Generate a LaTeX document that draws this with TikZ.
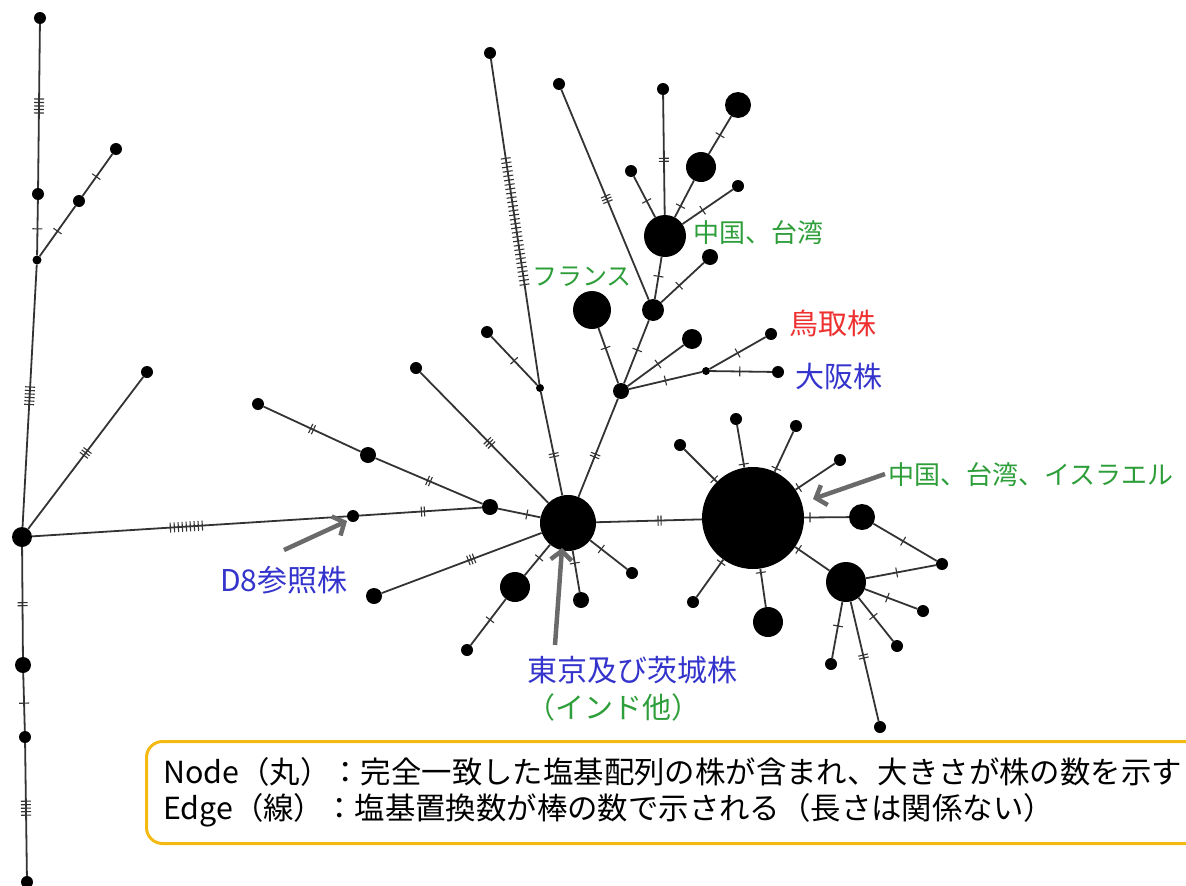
\documentclass[tikz,border=0pt]{standalone}
\usepackage{fontspec}
\setmainfont{Noto Sans CJK JP}
\usetikzlibrary{decorations.markings,arrows.meta}
\definecolor{edgec}{HTML}{333333}
\definecolor{lgreen}{HTML}{2E9E3A}
\definecolor{lblue}{HTML}{3434CC}
\definecolor{lred}{HTML}{EE3030}
\definecolor{boxc}{HTML}{F5BA12}
\definecolor{arrc}{HTML}{6A6A6A}
\begin{document}
\begin{tikzpicture}[x=1pt,y=-1pt,
  dot/.style={circle,fill=black,inner sep=0pt,minimum size={2*#1pt}},
  edge/.style={draw=edgec,line width=1.8pt},
  tk/.style n args={3}{postaction={decorate,decoration={markings,mark=at position #1 with {\pgfmathsetmacro\tkoff{(#2+1)/2}\foreach \ti in {1,...,#2}{\draw[edgec,line width=1.1pt] ({(\ti-\tkoff)*#3},-5) -- ({(\ti-\tkoff)*#3},5);}}}}},
  lab/.style={inner sep=0pt,anchor=west},
  garrow/.style={draw=arrc,line width=4.5pt,-{Straight Barb[length=9pt,width=21pt]}}]
\useasboundingbox (0,0) rectangle (1186,886);

% left column
\node[dot=6] (L1) at (40,18) {};
\node[dot=6] (L2) at (38,194) {};
\node[dot=4.5] (L3) at (37,260) {};
\node[dot=6] (L4) at (79,201) {};
\node[dot=6] (L5) at (116,149) {};
\node[dot=10] (L0) at (22,537) {};
\node[dot=6] (L6) at (147,372) {};
\node[dot=8] (L7) at (23,665) {};
\node[dot=6] (L8) at (25,737) {};
\node[dot=6] (L9) at (27,882) {};
% middle left
\node[dot=6] (D8) at (353,516) {};
\node[dot=8] (N1) at (490,507) {};
\node[dot=8] (N2) at (368,455) {};
\node[dot=6] (N3) at (258,404) {};
\node[dot=28] (C) at (568,523) {};
\node[dot=6] (N4) at (416,368) {};
\node[dot=6] (N5) at (487,332) {};
\node[dot=4] (N6) at (540,388) {};
\node[dot=6] (N7) at (490,53) {};
% upper branch
\node[dot=8] (B) at (621,391) {};
\node[dot=19] (F) at (592,310) {};
\node[dot=11] (M) at (653,310) {};
\node[dot=21] (T) at (665,236) {};
\node[dot=6] (T1) at (631,171) {};
\node[dot=6] (T2) at (663,89) {};
\node[dot=15] (T3) at (701,167) {};
\node[dot=13] (T4) at (738,105) {};
\node[dot=6] (T5) at (738,186) {};
\node[dot=8] (M1) at (710,257) {};
\node[dot=6] (N8) at (559,84) {};
\node[dot=10] (B1) at (692,339) {};
\node[dot=4] (B2) at (706,371) {};
\node[dot=6] (TT) at (771,334) {};
\node[dot=6] (OS) at (778,372) {};
% lower centre
\node[dot=8] (S1) at (374,596) {};
\node[dot=15] (S2) at (515,587) {};
\node[dot=6] (S3) at (467,650) {};
\node[dot=8] (S4) at (581,600) {};
\node[dot=6] (S5) at (632,573) {};
% right cluster
\node[dot=51] (G) at (753,518) {};
\node[dot=6] (G1) at (680,445) {};
\node[dot=6] (G2) at (736,419) {};
\node[dot=6] (G3) at (796,426) {};
\node[dot=6] (G4) at (840,460) {};
\node[dot=13] (G5) at (862,517) {};
\node[dot=20] (H) at (846,582) {};
\node[dot=15] (G7) at (768,622) {};
\node[dot=6] (G8) at (693,602) {};
\node[dot=6] (H0) at (942,564) {};
\node[dot=6] (H1) at (923,611) {};
\node[dot=6] (H2) at (897,646) {};
\node[dot=6] (H3) at (831,664) {};
\node[dot=6] (H4) at (880,727) {};

% edges
\draw[edge,tk={0.5}{5}{3.5}] (L1) -- (L2);
\draw[edge,tk={0.52}{1}{3}] (L2) -- (L3);
\draw[edge,tk={0.5}{1}{3}] (L3) -- (L4);
\draw[edge,tk={0.46}{1}{3}] (L4) -- (L5);
\draw[edge,tk={0.5}{6}{3.5}] (L3) -- (L0);
\draw[edge,tk={0.5}{3}{3}] (L0) -- (L6);
\draw[edge,tk={0.52}{2}{3}] (L0) -- (L7);
\draw[edge,tk={0.52}{1}{3}] (L7) -- (L8);
\draw[edge,tk={0.49}{5}{3.5}] (L8) -- (L9);
\draw[edge,tk={0.49}{9}{4}] (L0) -- (D8);
\draw[edge,tk={0.52}{2}{3}] (D8) -- (N1);
\draw[edge,tk={0.5}{2}{3}] (N2) -- (N1);
\draw[edge,tk={0.5}{2}{3}] (N3) -- (N2);
\draw[edge,tk={0.68}{1}{3}] (N1) -- (C);
\draw[edge,tk={0.54}{3}{3}] (N4) -- (C);
\draw[edge,tk={0.5}{1}{3}] (N5) -- (N6);
\draw[edge,tk={0.5}{30}{4.4}] (N7) -- (N6);
\draw[edge,tk={0.61}{2}{3}] (N6) -- (C);
\draw[edge,tk={0.58}{2}{3}] (B) -- (C);
\draw[edge,tk={0.36}{1}{3}] (F) -- (B);
\draw[edge,tk={0.47}{1}{3}] (M) -- (B);
\draw[edge,tk={0.52}{3}{3}] (N8) -- (M);
\draw[edge,tk={0.54}{1}{3}] (M) -- (T);
\draw[edge,tk={0.42}{1}{3}] (M) -- (M1);
\draw[edge,tk={0.4}{1}{3}] (T) -- (T1);
\draw[edge,tk={0.46}{2}{3}] (T) -- (T2);
\draw[edge,tk={0.3}{1}{3}] (T) -- (T3);
\draw[edge,tk={0.5}{1}{3}] (T3) -- (T4);
\draw[edge,tk={0.4}{1}{3}] (T) -- (T5);
\draw[edge,tk={0.54}{1}{3}] (B) -- (B1);
\draw[edge,tk={0.5}{1}{3}] (B) -- (B2);
\draw[edge,tk={0.5}{1}{3}] (B2) -- (TT);
\draw[edge,tk={0.48}{1}{3}] (B2) -- (OS);
\draw[edge,tk={0.6}{2}{3}] (C) -- (G);
\draw[edge,tk={0.44}{3}{3}] (C) -- (S1);
\draw[edge,tk={0.43}{1}{3}] (C) -- (S2);
\draw[edge,tk={0.45}{1}{3}] (S2) -- (S3);
\draw[edge,tk={0.3}{1}{3}] (C) -- (S4);
\draw[edge,tk={0.3}{1}{3}] (C) -- (S5);
\draw[edge,tk={0.08}{1}{3}] (G) -- (G1);
\draw[edge,tk={0.08}{1}{3}] (G) -- (G2);
\draw[edge,tk={0.08}{1}{3}] (G) -- (G3);
\draw[edge,tk={0.08}{1}{3}] (G) -- (G4);
\draw[edge,tk={0.13}{1}{3}] (G) -- (G5);
\draw[edge,tk={0.1}{1}{3}] (G) -- (H);
\draw[edge,tk={0.1}{1}{3}] (G) -- (G7);
\draw[edge,tk={0.08}{1}{3}] (G) -- (G8);
\draw[edge,tk={0.47}{1}{3}] (G5) -- (H0);
\draw[edge,tk={0.44}{1}{3}] (H) -- (H0);
\draw[edge,tk={0.43}{1}{3}] (H) -- (H1);
\draw[edge,tk={0.43}{1}{3}] (H) -- (H2);
\draw[edge,tk={0.43}{1}{3}] (H) -- (H3);
\draw[edge,tk={0.46}{2}{3}] (H) -- (H4);

% labels
\node[lab,text=lgreen,font=\fontsize{26}{30}\selectfont] (lT) at (693,233) {中国、台湾};
\node[lab,text=lgreen,font=\fontsize{25}{30}\selectfont] (lF) at (532,277) {フランス};
\node[lab,text=lred,font=\fontsize{29}{34}\selectfont] (lTT) at (789,323) {鳥取株};
\node[lab,text=lblue,font=\fontsize{29}{34}\selectfont] (lOS) at (795,376) {大阪株};
\node[lab,text=lgreen,font=\fontsize{26}{30}\selectfont] (lG) at (888,475) {中国、台湾、イスラエル};
\node[lab,text=lblue,font=\fontsize{30}{34}\selectfont] (lD8) at (220,580) {D8参照株};
\node[inner sep=0pt,text=lblue,font=\fontsize{30}{34}\selectfont] (lC) at (632,670) {東京及び茨城株};
\node[inner sep=0pt,text=lgreen,font=\fontsize{29}{34}\selectfont] (lC2) at (613,707) {（インド他）};

% arrows
\coordinate (aD8s) at (284,550);
\coordinate (aD8e) at (347,521);
\coordinate (aCs) at (555,645);
\coordinate (aCe) at (562,548);
\coordinate (aGs) at (885,474);
\coordinate (aGe) at (813,499);
\draw[garrow] (aD8s) -- (aD8e);
\draw[garrow] (aCs) -- (aCe);
\draw[garrow] (aGs) -- (aGe);

% legend box
\node[draw=boxc,line width=3pt,rounded corners=16pt,minimum width=1080pt,minimum height=102pt,anchor=north west,inner sep=0pt] (box) at (145,740) {};
\node[lab,font=\fontsize{30.4}{36}\selectfont] (t1) at (163,772) {Node（丸）：完全一致した塩基配列の株が含まれ、大きさが株の数を示す};
\node[lab,font=\fontsize{30.4}{36}\selectfont] (t2) at (163,810) {Edge（線）：塩基置換数が棒の数で示される（長さは関係ない）};
\end{tikzpicture}
\end{document}
